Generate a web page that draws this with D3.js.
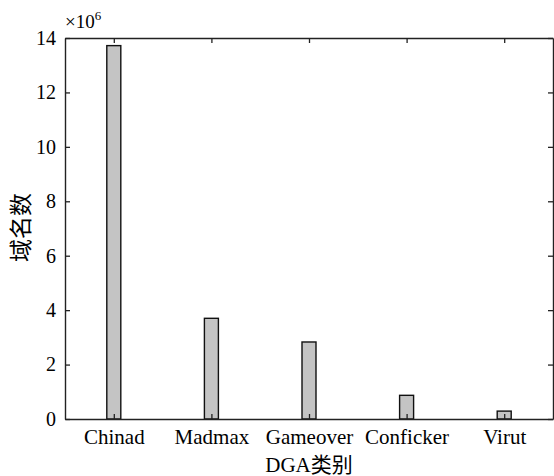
<!DOCTYPE html>
<html>
<head>
<meta charset="utf-8">
<script src="https://cdn.jsdelivr.net/npm/d3@7"></script>
<style>
  body { margin: 0; background: #fff; }
  svg text { font-family: "Liberation Serif", "DejaVu Serif", serif !important; }
  svg text.cjk { font-family: "Liberation Serif", "Noto Sans CJK SC", serif !important; }
</style>
</head>
<body>
<div class="chart"></div>
<script>
// DGA families and domain counts (x10^6)
var categories = ["Chinad", "Madmax", "Gameover", "Conficker", "Virut"];
var counts = [13.72, 3.7, 2.83, 0.87, 0.29];
var yTicks = [0, 2, 4, 6, 8, 10, 12, 14];

var width = 554, height = 476;
var margin = { top: 38, right: 1, bottom: 57, left: 65 };
var w = width - margin.left - margin.right;
var h = height - margin.top - margin.bottom;

var svg = d3.select(".chart").append("svg")
  .attr("width", width)
  .attr("height", height);

var g = svg.append("g").attr("transform", `translate(${margin.left},${margin.top})`);

var x = d3.scaleLinear().domain([0.5, categories.length + 0.5]).range([0, w]);
var y = d3.scaleLinear().domain([0, 14]).range([h, 0]);
var barW = 14;

// bars
g.selectAll(".bar")
  .data(counts)
  .enter().append("rect")
  .attr("class", "bar")
  .attr("x", (d, i) => x(i + 1) - barW / 2)
  .attr("y", d => y(d))
  .attr("width", barW)
  .attr("height", d => h - y(d))
  .attr("fill", "#c4c4c4")
  .attr("stroke", "#111")
  .attr("stroke-width", 1.4);

// axes, ticks pointing inward
var xTickVals = categories.map((c, i) => i + 1);
var xAxis = d3.axisBottom(x).tickValues(xTickVals).tickFormat((d, i) => categories[i])
  .tickSizeInner(-5).tickSizeOuter(0).tickPadding(10);
var xTop = d3.axisTop(x).tickValues(xTickVals).tickFormat("")
  .tickSizeInner(-5).tickSizeOuter(0);
var yAxis = d3.axisLeft(y).tickValues(yTicks).tickFormat(d3.format("d"))
  .tickSizeInner(-5).tickSizeOuter(0).tickPadding(9);
var yRight = d3.axisRight(y).tickValues(yTicks).tickFormat("")
  .tickSizeInner(-5).tickSizeOuter(0);

g.append("g").attr("transform", `translate(0,${h})`).call(xAxis)
  .attr("font-family", null)
  .call(s => s.selectAll("text").attr("font-size", 21).attr("fill", "#000"));
g.append("g").call(xTop);
g.append("g").call(yAxis)
  .attr("font-family", null)
  .call(s => s.selectAll("text").attr("font-size", 20).attr("fill", "#000"));
g.append("g").attr("transform", `translate(${w},0)`).call(yRight);

g.selectAll(".domain").attr("stroke", "#222").attr("stroke-width", 1.4);
g.selectAll(".tick line").attr("stroke", "#222").attr("stroke-width", 1.3);

// exponent label
var ex = svg.append("text")
  .attr("x", margin.left)
  .attr("y", 28)
  .attr("font-size", 19)
  .attr("fill", "#000");
ex.append("tspan").text("×10");
ex.append("tspan").attr("dy", -8).attr("font-size", 13).text("6");

// axis titles
svg.append("text")
  .attr("class", "cjk")
  .attr("x", margin.left + w / 2)
  .attr("y", 472)
  .attr("text-anchor", "middle")
  .attr("font-size", 21)
  .attr("fill", "#000")
  .text("DGA类别");

svg.append("text")
  .attr("class", "cjk")
  .attr("transform", `translate(29,${margin.top + h / 2 - 1}) rotate(-90)`)
  .attr("text-anchor", "middle")
  .attr("font-size", 23)
  .attr("fill", "#000")
  .text("域名数");
</script>
</body>
</html>
